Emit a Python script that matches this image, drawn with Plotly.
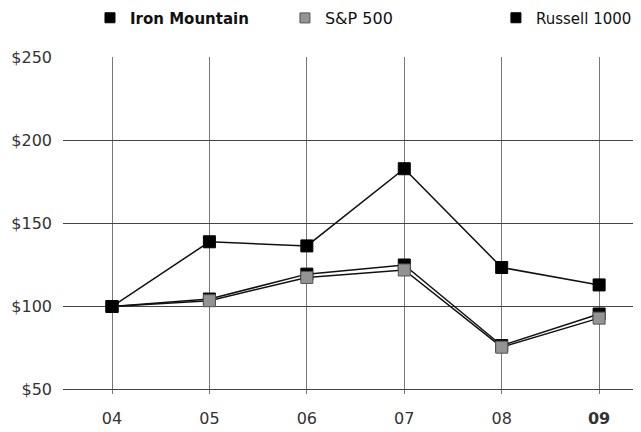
import plotly.graph_objects as go

years = ["04", "05", "06", "07", "08", "09"]
tick_labels = ["04", "05", "06", "07", "08", "<b>09</b>"]
iron_mountain = [100, 139, 136.5, 183, 123.5, 113]
sp500 = [100, 103.5, 117.5, 122, 75.5, 93]
russell1000 = [100, 104.5, 119.5, 125, 76.5, 95.5]

x = list(range(len(years)))
font_family = "DejaVu Sans, Verdana, sans-serif"

fig = go.Figure()

series = [
    ("Russell 1000", russell1000, "#000000", "#000000", "legend3", False),
    ("S&P 500", sp500, "#939393", "#555555", "legend2", False),
    ("Iron Mountain", iron_mountain, "#000000", "#000000", "legend", True),
]

for name, vals, fill, edge, leg, bold in series:
    fig.add_trace(go.Scatter(
        x=x, y=vals, mode="lines+markers", name=name, showlegend=False,
        line=dict(color="#111111", width=1.5),
        marker=dict(symbol="square", size=12, color=fill, line=dict(color=edge, width=1)),
    ))
    fig.add_trace(go.Scatter(
        x=[None], y=[None], mode="markers",
        name=f"<b>{name}</b>" if bold else name,
        legend=leg, showlegend=True,
        marker=dict(symbol="square", size=10, color=fill, line=dict(color=edge, width=1)),
    ))

def leg(xpos, size):
    return dict(x=xpos, y=1.1157, orientation="h", yanchor="middle", xanchor="left",
                font=dict(family=font_family, size=size, color="#111111"),
                bgcolor="rgba(0,0,0,0)", itemwidth=30, traceorder="normal")

fig.update_layout(
    width=633, height=424,
    margin=dict(l=55, r=0, t=49, b=38, autoexpand=False),
    paper_bgcolor="white", plot_bgcolor="white",
    font=dict(family=font_family, size=16, color="#222222"),
    legend=leg(0.0467, 15),
    legend2=leg(0.384, 16),
    legend3=leg(0.749, 15),
    xaxis=dict(
        range=[-0.503, 5.43], tickmode="array", tickvals=x, ticktext=tick_labels,
        showgrid=True, gridcolor="#777777", gridwidth=1, zeroline=False,
        showline=False, ticks="", ticklabelstandoff=13,
        tickfont=dict(family=font_family, size=16, color="#333333"),
    ),
    yaxis=dict(
        range=[47.3, 250.3], tickmode="array", tickvals=[50, 100, 150, 200, 250],
        ticktext=["$50", "$100", "$150", "$200", "$250"],
        showgrid=True, gridcolor="#444444", gridwidth=1, zeroline=False,
        showline=False, ticks="", ticklabelstandoff=10,
        tickfont=dict(family=font_family, size=16, color="#333333"),
    ),
)

fig.write_html("out.html")
